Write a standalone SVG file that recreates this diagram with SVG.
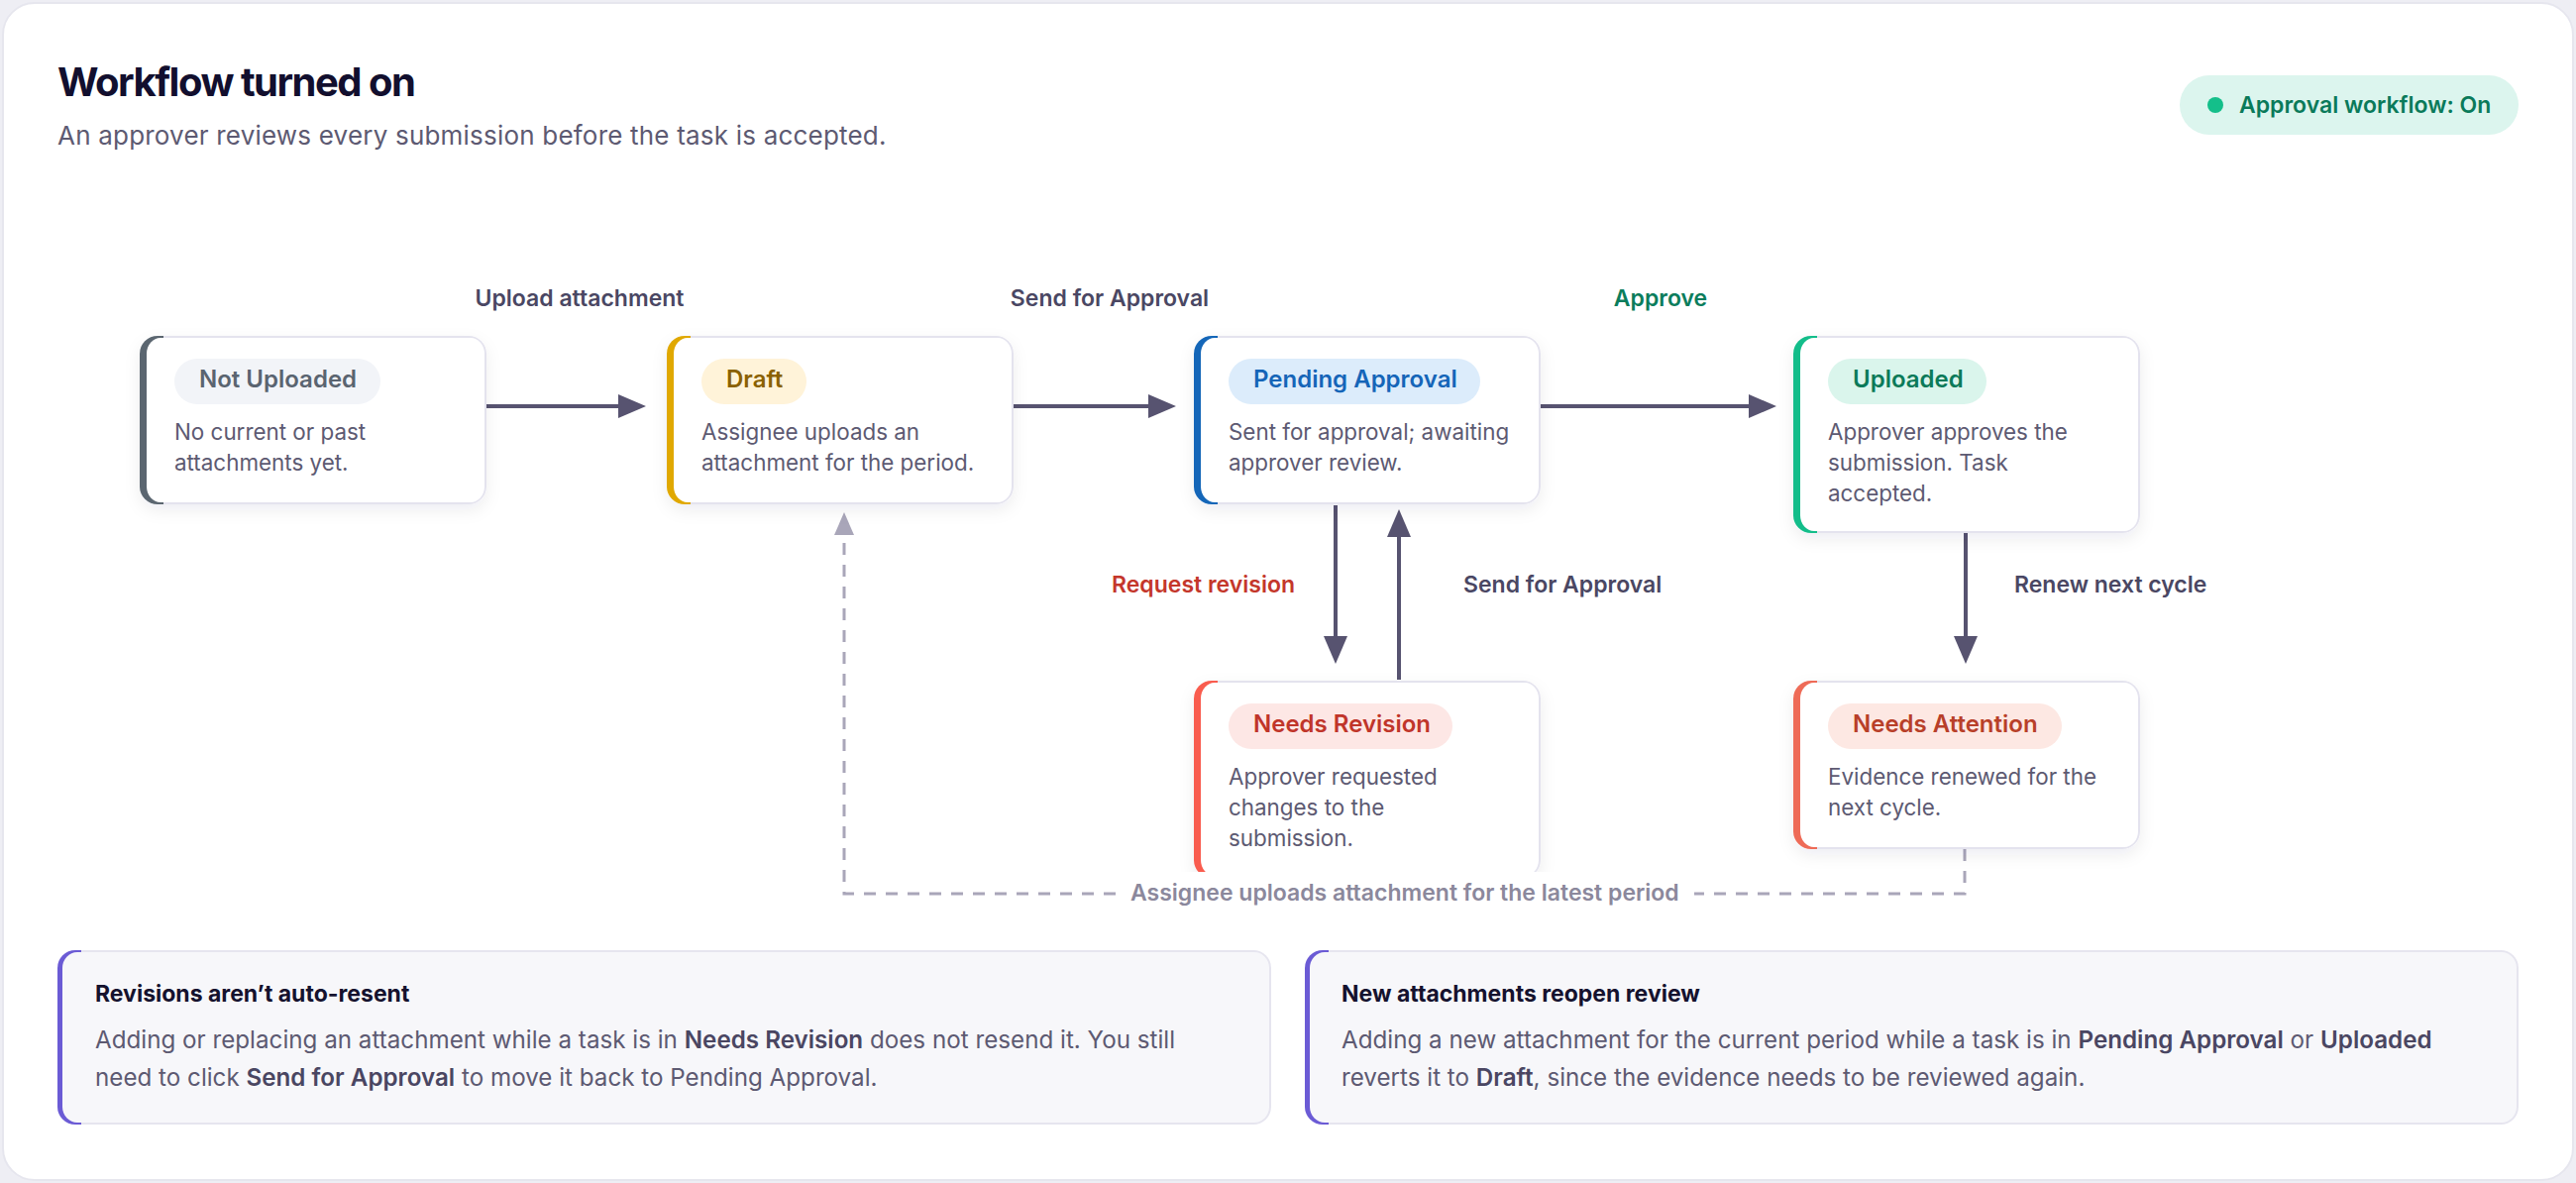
<svg xmlns="http://www.w3.org/2000/svg" xmlns:xlink="http://www.w3.org/1999/xlink" width="2600" height="1194" viewBox="0 0 2600 1194">
<style>
text{font-family:Inter,"Liberation Sans",sans-serif;}
.title{font-size:40px;font-weight:700;fill:#120f2e;letter-spacing:-1.5px;}
.sub{font-size:26px;fill:#5d5a72;letter-spacing:0.2px;}
.badge{font-size:23px;font-weight:600;fill:#0a7a5a;}
.pill{font-size:24px;font-weight:600;}
.desc{font-size:22.4px;fill:#5d5a72;}
.lbl{font-size:23px;font-weight:600;fill:#4a4763;}
.lbl-red{font-size:23px;font-weight:600;fill:#c4372b;}
.lbl-green{font-size:23px;font-weight:600;fill:#0b7d5c;}
.lbl-dash{font-size:23px;font-weight:600;fill:#8b889c;}
.brd{fill:#e4e3ee;}
.inn{fill:#ffffff;}
.conn{stroke:#575370;stroke-width:4;fill:none;}
.dash{stroke:#a9a6b9;stroke-width:3;fill:none;stroke-dasharray:12 10;}
.ctitle{font-size:23px;font-weight:700;fill:#15122e;}
.cbody{font-size:24.2px;fill:#5d5a72;}
.cbody tspan.b{font-weight:600;fill:#4a4662;}
</style>
<defs>
<filter id="sh" x="-20%" y="-20%" width="140%" height="150%">
<feDropShadow dx="0" dy="6" stdDeviation="8" flood-color="#1c1840" flood-opacity="0.07"/>
</filter>
<marker id="arr" viewBox="0 0 28 24" markerWidth="28" markerHeight="24" markerUnits="userSpaceOnUse" refX="2" refY="12" orient="auto">
<path d="M0 0 L28 12 L0 24 Z" fill="#575370"/>
</marker>
<marker id="arrg" viewBox="0 0 23 20" markerWidth="23" markerHeight="20" markerUnits="userSpaceOnUse" refX="1" refY="10" orient="auto">
<path d="M0 0 L23 10 L0 20 Z" fill="#a9a6b9"/>
</marker>
<rect id="sh170" x="0" y="0" width="350" height="170" rx="18"/>
<path id="acc170" d="M24 0 H18 A18 18 0 0 0 0 18 V152 A18 18 0 0 0 18 170 H24 Z"/>
<path id="brd170" d="M24 0 H332 A18 18 0 0 1 350 18 V152 A18 18 0 0 1 332 170 H24 Z"/>
<rect id="inn170" x="7" y="2" width="341" height="166" rx="14" ry="16"/>
<rect id="sh199" x="0" y="0" width="350" height="199" rx="18"/>
<path id="acc199" d="M24 0 H18 A18 18 0 0 0 0 18 V181 A18 18 0 0 0 18 199 H24 Z"/>
<path id="brd199" d="M24 0 H332 A18 18 0 0 1 350 18 V181 A18 18 0 0 1 332 199 H24 Z"/>
<rect id="inn199" x="7" y="2" width="341" height="195" rx="14" ry="16"/>
<path id="cacc" d="M24 0 H18 A18 18 0 0 0 0 18 V158 A18 18 0 0 0 18 176 H24 Z"/>
<path id="cbrd" d="M24 0 H1207 A18 18 0 0 1 1225 18 V158 A18 18 0 0 1 1207 176 H24 Z"/>
<rect id="cinn" x="5" y="2" width="1218" height="172" rx="15" ry="16"/>
<clipPath id="clipNR"><rect x="-30" y="-30" width="420" height="223"/></clipPath>
</defs>

<rect x="0" y="0" width="2600" height="1194" fill="#eeeef4"/>
<rect x="3" y="3" width="2594" height="1188" rx="32" fill="#ffffff" stroke="#e6e6ee" stroke-width="2"/>

<g id="header">
<text class="title" x="58" y="97">Workflow turned on</text>
<text class="sub" x="58" y="146">An approver reviews every submission before the task is accepted.</text>
</g>

<g id="badge">
<rect x="2200" y="76" width="342" height="60" rx="30" fill="#dcf5ee"/>
<circle cx="2236" cy="106" r="8" fill="#14bf8a"/>
<text class="badge" x="2260" y="114">Approval workflow: On</text>
</g>

<g id="connectors">
<line class="conn" x1="491" y1="410" x2="626" y2="410" marker-end="url(#arr)"/>
<line class="conn" x1="1023" y1="410" x2="1161" y2="410" marker-end="url(#arr)"/>
<line class="conn" x1="1555" y1="410" x2="1767" y2="410" marker-end="url(#arr)"/>
<line class="conn" x1="1348" y1="510" x2="1348" y2="644" marker-end="url(#arr)"/>
<line class="conn" x1="1412" y1="686" x2="1412" y2="540" marker-end="url(#arr)"/>
<line class="conn" x1="1984" y1="538" x2="1984" y2="644" marker-end="url(#arr)"/>
<path class="dash" d="M1983 857 V902 H852 V539" marker-end="url(#arrg)"/>
<rect x="1126" y="884" width="584" height="34" fill="#ffffff"/>
<text class="lbl" x="585" y="309" text-anchor="middle">Upload attachment</text>
<text class="lbl" x="1120" y="309" text-anchor="middle">Send for Approval</text>
<text class="lbl-green" x="1676" y="309" text-anchor="middle">Approve</text>
<text class="lbl-red" x="1307" y="598" text-anchor="end">Request revision</text>
<text class="lbl" x="1477" y="598">Send for Approval</text>
<text class="lbl" x="2033" y="598">Renew next cycle</text>
<text class="lbl-dash" x="1141" y="909">Assignee uploads attachment for the latest period</text>
</g>

<g id="node-not-uploaded" transform="translate(141,339)">
<use href="#sh170" fill="#ffffff" filter="url(#sh)"/>
<use href="#acc170" fill="#5b6670"/>
<use href="#brd170" class="brd"/>
<use href="#inn170" class="inn"/>
<rect x="35" y="23" width="208" height="46" rx="23" fill="#f2f4f8"/>
<text class="pill" x="60" y="52" fill="#5a6470">Not Uploaded</text>
<text class="desc" x="35" y="105">No current or past</text>
<text class="desc" x="35" y="136">attachments yet.</text>
</g>

<g id="node-draft" transform="translate(673,339)">
<use href="#sh170" fill="#ffffff" filter="url(#sh)"/>
<use href="#acc170" fill="#e0a800"/>
<use href="#brd170" class="brd"/>
<use href="#inn170" class="inn"/>
<rect x="35" y="23" width="106" height="46" rx="23" fill="#fff3d9"/>
<text class="pill" x="60" y="52" fill="#8a6100">Draft</text>
<text class="desc" x="35" y="105">Assignee uploads an</text>
<text class="desc" x="35" y="136">attachment for the period.</text>
</g>

<g id="node-pending-approval" transform="translate(1205,339)">
<use href="#sh170" fill="#ffffff" filter="url(#sh)"/>
<use href="#acc170" fill="#1466b8"/>
<use href="#brd170" class="brd"/>
<use href="#inn170" class="inn"/>
<rect x="35" y="23" width="254" height="46" rx="23" fill="#dcecfb"/>
<text class="pill" x="60" y="52" fill="#1565b8">Pending Approval</text>
<text class="desc" x="35" y="105">Sent for approval; awaiting</text>
<text class="desc" x="35" y="136">approver review.</text>
</g>

<g id="node-uploaded" transform="translate(1810,339)">
<use href="#sh199" fill="#ffffff" filter="url(#sh)"/>
<use href="#acc199" fill="#13bd8a"/>
<use href="#brd199" class="brd"/>
<use href="#inn199" class="inn"/>
<rect x="35" y="23" width="160" height="46" rx="23" fill="#daf5ec"/>
<text class="pill" x="60" y="52" fill="#0b7a59">Uploaded</text>
<text class="desc" x="35" y="105">Approver approves the</text>
<text class="desc" x="35" y="136">submission. Task</text>
<text class="desc" x="35" y="167">accepted.</text>
</g>

<g id="node-needs-revision" transform="translate(1205,687)">
<g clip-path="url(#clipNR)">
<use href="#sh199" fill="#ffffff" filter="url(#sh)"/>
<use href="#acc199" fill="#f95c4e"/>
<use href="#brd199" class="brd"/>
<use href="#inn199" class="inn"/>
<rect x="35" y="23" width="226" height="46" rx="23" fill="#fde7e5"/>
<text class="pill" x="60" y="52" fill="#c0352a">Needs Revision</text>
<text class="desc" x="35" y="105">Approver requested</text>
<text class="desc" x="35" y="136">changes to the</text>
<text class="desc" x="35" y="167">submission.</text>
</g>
</g>

<g id="node-needs-attention" transform="translate(1810,687)">
<use href="#sh170" fill="#ffffff" filter="url(#sh)"/>
<use href="#acc170" fill="#ee6b57"/>
<use href="#brd170" class="brd"/>
<use href="#inn170" class="inn"/>
<rect x="35" y="23" width="236" height="46" rx="23" fill="#fde8e3"/>
<text class="pill" x="60" y="52" fill="#b83f29">Needs Attention</text>
<text class="desc" x="35" y="105">Evidence renewed for the</text>
<text class="desc" x="35" y="136">next cycle.</text>
</g>

<g id="callout-revisions" transform="translate(58,959)">
<use href="#cacc" fill="#6b5bd5"/>
<use href="#cbrd" fill="#e6e5ef"/>
<use href="#cinn" fill="#f7f7fa"/>
<text class="ctitle" x="38" y="52">Revisions aren’t auto-resent</text>
<text class="cbody" x="38" y="99">Adding or replacing an attachment while a task is in <tspan class="b">Needs Revision</tspan> does not resend it. You still</text>
<text class="cbody" x="38" y="137">need to click <tspan class="b">Send for Approval</tspan> to move it back to Pending Approval.</text>
</g>

<g id="callout-new-attachments" transform="translate(1317,959)">
<use href="#cacc" fill="#6b5bd5"/>
<use href="#cbrd" fill="#e6e5ef"/>
<use href="#cinn" fill="#f7f7fa"/>
<text class="ctitle" x="37" y="52">New attachments reopen review</text>
<text class="cbody" x="37" y="99">Adding a new attachment for the current period while a task is in <tspan class="b">Pending Approval</tspan> or <tspan class="b">Uploaded</tspan></text>
<text class="cbody" x="37" y="137">reverts it to <tspan class="b">Draft</tspan>, since the evidence needs to be reviewed again.</text>
</g>
</svg>
